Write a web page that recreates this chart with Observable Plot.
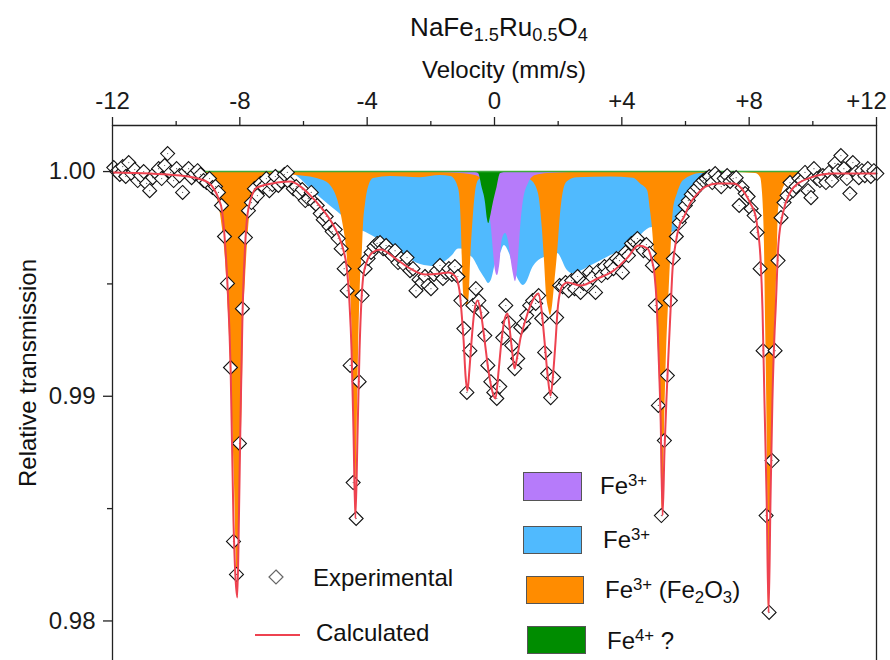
<!DOCTYPE html>
<html><head><meta charset="utf-8">
<script src="https://cdn.jsdelivr.net/npm/d3@7"></script>
<script src="https://cdn.jsdelivr.net/npm/@observablehq/plot@0.6"></script>
<style>
body{margin:0;background:#fff;}
#wrap{position:relative;width:890px;height:660px;overflow:hidden;font-family:"Liberation Sans",Arial,sans-serif;color:#111;}
#wrap svg{position:absolute;left:0;top:0;}
.t{position:absolute;white-space:nowrap;font-size:24px;line-height:1;}
.t sub{font-size:0.7em;vertical-align:-0.28em;line-height:0;}
.t sup{font-size:0.7em;vertical-align:0.5em;line-height:0;}
.box{position:absolute;border:1px solid #555;box-sizing:border-box;}
</style></head><body><div id="wrap"></div>
<script>
// ---------- DATA ----------
const titleHTML = "NaFe<sub>1.5</sub>Ru<sub>0.5</sub>O<sub>4</sub>";
const xLabel = "Velocity (mm/s)";
const yLabel = "Relative transmission";
const majorTicksX = [-12, -8, -4, 0, 4, 8, 12];
const minorTicksX = [-10, -6, -2, 2, 6, 10];
const majorTicksY = [0.98, 0.99, 1.00];
const minorTicksY = [0.985, 0.995];
const BASELINE = 1.0;

// experimental spectrum: equally spaced channels
const velocityStart = -11.96, velocityStep = 0.094;
const expTransmission = [
1.00018,1.00000,0.99987,1.00022,0.99978,1.00040,0.99991,1.00009,0.99960,0.99982,
1.00000,0.99947,0.99915,0.99973,0.99996,1.00013,0.99969,1.00027,1.00080,0.99996,
0.99960,1.00013,0.99982,0.99907,1.00000,1.00013,0.99973,0.99991,1.00004,0.99987,
0.99960,0.99951,0.99969,0.99929,0.99933,0.99907,0.99849,0.99711,0.99502,0.99128,
0.98354,0.98207,0.98790,0.99390,0.99706,0.99826,0.99862,0.99924,0.99893,0.99947,
0.99933,0.99969,0.99915,0.99942,0.99978,0.99938,0.99956,0.99987,0.99996,0.99947,
0.99924,0.99933,0.99902,0.99920,0.99871,0.99880,0.99907,0.99862,0.99849,0.99813,
0.99786,0.99800,0.99755,0.99733,0.99742,0.99702,0.99657,0.99568,0.99470,0.99137,
0.98616,0.98456,0.99065,0.99448,0.99568,0.99613,0.99640,0.99666,0.99680,0.99684,
0.99657,0.99671,0.99640,0.99626,0.99648,0.99595,0.99613,0.99586,0.99617,0.99559,
0.99568,0.99470,0.99519,0.99506,0.99533,0.99493,0.99479,0.99542,0.99559,0.99582,
0.99524,0.99551,0.99568,0.99542,0.99577,0.99533,0.99426,0.99301,0.99017,0.99203,
0.99404,0.99479,0.99426,0.99373,0.99270,0.99137,0.99065,0.99017,0.98990,0.99043,
0.99261,0.99404,0.99328,0.99226,0.99123,0.99168,0.99306,0.99324,0.99359,0.99404,
0.99426,0.99413,0.99448,0.99346,0.99195,0.99101,0.98994,0.99083,0.99350,0.99493,
0.99488,0.99506,0.99470,0.99515,0.99479,0.99533,0.99462,0.99502,0.99497,0.99551,
0.99528,0.99462,0.99559,0.99537,0.99577,0.99551,0.99586,0.99568,0.99613,0.99604,
0.99551,0.99640,0.99626,0.99680,0.99689,0.99702,0.99666,0.99648,0.99675,0.99635,
0.99582,0.99404,0.98959,0.98469,0.98803,0.99092,0.99426,0.99613,0.99711,0.99773,
0.99800,0.99849,0.99871,0.99898,0.99915,0.99929,0.99947,0.99960,0.99969,0.99978,
0.99951,0.99991,0.99973,0.99933,0.99969,0.99982,0.99956,0.99969,0.99973,0.99849,
0.99929,0.99902,0.99889,0.99835,0.99804,0.99729,0.99568,0.99203,0.98469,0.98038,
0.98714,0.99203,0.99604,0.99795,0.99862,0.99893,0.99951,0.99915,0.99933,0.99969,
0.99960,0.99996,0.99915,0.99884,1.00013,0.99969,0.99960,0.99982,0.99951,0.99996,
0.99960,1.00036,1.00004,1.00071,1.00013,0.99969,0.99902,1.00040,0.99996,0.99973,
1.00004,0.99982,1.00013,0.99978,1.00004,0.99991
];

// calculated fit [velocity, transmission]
const calculated = [
[-12.00,0.99996],[-10.81,0.99991],[-9.86,0.99982],[-9.32,0.99969],[-8.99,0.99951],[-8.82,0.99924],
[-8.67,0.99880],[-8.56,0.99826],[-8.48,0.99711],[-8.39,0.99502],[-8.29,0.99128],[-8.20,0.98447],
[-8.14,0.98202],[-8.08,0.98104],[-8.03,0.98447],[-7.98,0.98892],[-7.92,0.99337],[-7.82,0.99706],
[-7.73,0.99835],[-7.46,0.99929],[-6.83,0.99951],[-6.41,0.99956],[-6.09,0.99933],[-5.78,0.99893],
[-5.47,0.99844],[-5.15,0.99782],[-4.90,0.99715],[-4.74,0.99648],[-4.65,0.99582],[-4.56,0.99426],
[-4.49,0.99203],[-4.43,0.98848],[-4.37,0.98456],[-4.30,0.98848],[-4.24,0.99203],[-4.18,0.99426],
[-4.12,0.99537],[-4.02,0.99595],[-3.83,0.99640],[-3.58,0.99653],[-3.11,0.99613],[-2.64,0.99568],
[-2.17,0.99542],[-1.70,0.99546],[-1.45,0.99551],[-1.23,0.99533],[-1.10,0.99470],[-1.04,0.99381],
[-0.97,0.99248],[-0.91,0.99092],[-0.85,0.99025],[-0.79,0.99114],[-0.72,0.99248],[-0.63,0.99381],
[-0.53,0.99426],[-0.44,0.99381],[-0.31,0.99248],[-0.19,0.99114],[-0.06,0.99017],[0.03,0.98990],
[0.13,0.99114],[0.22,0.99248],[0.31,0.99337],[0.41,0.99368],[0.50,0.99270],[0.57,0.99181],
[0.63,0.99123],[0.72,0.99181],[0.82,0.99261],[0.97,0.99337],[1.13,0.99404],[1.29,0.99448],
[1.38,0.99457],[1.48,0.99381],[1.57,0.99248],[1.67,0.99092],[1.76,0.99003],[1.85,0.99114],
[1.92,0.99248],[1.98,0.99381],[2.07,0.99470],[2.17,0.99497],[2.29,0.99506],[2.70,0.99493],
[3.24,0.99524],[3.74,0.99559],[4.18,0.99617],[4.52,0.99671],[4.81,0.99657],[4.93,0.99613],
[5.03,0.99537],[5.09,0.99426],[5.15,0.99203],[5.22,0.98892],[5.28,0.98469],[5.34,0.98758],
[5.40,0.98981],[5.47,0.99203],[5.53,0.99381],[5.59,0.99559],[5.69,0.99680],[5.81,0.99760],
[5.94,0.99795],[6.16,0.99862],[6.38,0.99902],[6.63,0.99933],[7.01,0.99947],[7.51,0.99947],
[7.73,0.99929],[7.89,0.99898],[8.04,0.99858],[8.20,0.99804],[8.26,0.99751],[8.36,0.99604],
[8.42,0.99381],[8.48,0.98981],[8.55,0.98536],[8.61,0.98038],[8.67,0.98536],[8.73,0.98981],
[8.80,0.99292],[8.83,0.99381],[8.92,0.99680],[9.08,0.99826],[9.24,0.99893],[9.39,0.99929],
[9.93,0.99973],[10.65,0.99991],[12.00,0.99991]
];

// component: Fe3+ broad (blue)
const compBlue = [
[-6.47,1.0],[-6.38,0.99996],[-6.19,0.99978],[-5.69,0.99911],[-5.15,0.99846],[-4.68,0.99791],
[-4.37,0.99750],[-4.05,0.99730],[-3.58,0.99693],[-2.95,0.99640],[-2.32,0.99586],[-1.85,0.99577],
[-1.54,0.99600],[-1.32,0.99626],[-1.13,0.99655],[-0.97,0.99653],[-0.82,0.99630],[-0.69,0.99617],
[-0.44,0.99555],[-0.28,0.99520],[-0.19,0.99502],[-0.09,0.99520],[0.03,0.99590],[0.19,0.99635],
[0.31,0.99671],[0.47,0.99635],[0.63,0.99560],[0.79,0.99510],[0.91,0.99493],[1.04,0.99515],
[1.16,0.99560],[1.32,0.99595],[1.60,0.99620],[1.98,0.99635],[2.29,0.99560],[2.45,0.99546],
[3.02,0.99580],[3.64,0.99625],[4.27,0.99670],[4.96,0.99751],[5.28,0.99720],[5.69,0.99737],
[6.16,0.99840],[6.47,0.99915],[6.79,0.99973],[6.94,0.99996],[7.10,1.0]
];

// component: Fe3+ (Fe2O3) sextet (orange)
const compOrange = [
[-12.00,0.99999],[-9.86,0.99998],[-9.39,0.99993],[-9.14,0.99987],[-8.99,0.99969],[-8.83,0.99929],
[-8.67,0.99858],[-8.55,0.99751],[-8.45,0.99604],[-8.36,0.99381],[-8.26,0.99025],[-8.17,0.98625],
[-8.11,0.98269],[-8.08,0.98127],[-8.04,0.98269],[-7.98,0.98670],[-7.92,0.99025],[-7.89,0.99292],
[-7.82,0.99528],[-7.76,0.99680],[-7.67,0.99826],[-7.51,0.99902],[-7.35,0.99947],[-7.10,0.99978],
[-6.72,0.99987],[-6.19,0.99982],[-5.37,0.99960],[-5.00,0.99902],[-4.84,0.99826],[-4.74,0.99751],
[-4.65,0.99662],[-4.59,0.99559],[-4.52,0.99470],[-4.46,0.99203],[-4.40,0.98758],[-4.37,0.98483],
[-4.34,0.98670],[-4.27,0.99203],[-4.21,0.99515],[-4.15,0.99648],[-4.12,0.99751],[-4.05,0.99858],
[-3.96,0.99929],[-3.80,0.99969],[-3.27,0.99978],[-2.32,0.99973],[-1.70,0.99982],[-1.38,0.99978],
[-1.23,0.99960],[-1.16,0.99938],[-1.10,0.99902],[-1.04,0.99751],[-1.01,0.99604],[-0.97,0.99457],
[-0.91,0.99417],[-0.85,0.99395],[-0.79,0.99457],[-0.75,0.99604],[-0.69,0.99751],[-0.60,0.99902],
[-0.50,0.99960],[-0.28,0.99978],[0.19,0.99982],[0.82,0.99978],[1.16,0.99960],[1.38,0.99902],
[1.50,0.99751],[1.57,0.99604],[1.63,0.99457],[1.70,0.99390],[1.76,0.99359],[1.82,0.99400],
[1.89,0.99500],[1.98,0.99635],[2.07,0.99804],[2.17,0.99915],[2.29,0.99955],[2.60,0.99973],
[3.64,0.99976],[4.37,0.99970],[4.59,0.99945],[4.81,0.99915],[4.90,0.99826],[4.96,0.99751],
[5.03,0.99604],[5.09,0.99420],[5.15,0.99200],[5.22,0.98890],[5.28,0.98492],[5.34,0.98850],
[5.40,0.99180],[5.47,0.99420],[5.53,0.99604],[5.62,0.99826],[5.75,0.99902],[5.94,0.99960],
[6.47,0.99991],[7.41,0.99996],[8.20,0.99991],[8.36,0.99973],[8.42,0.99902],[8.45,0.99826],
[8.48,0.99680],[8.51,0.99381],[8.55,0.99000],[8.58,0.98600],[8.61,0.98069],[8.67,0.98400],
[8.73,0.98900],[8.83,0.99381],[8.89,0.99680],[8.92,0.99826],[8.99,0.99880],[9.08,0.99929],
[9.39,0.99973],[9.71,0.99991],[10.24,0.99998],[12.00,0.99999]
];

// component: Fe3+ doublet (purple)
const compPurple = [
[-2.32,1.0],[-1.70,0.99996],[-1.07,0.99991],[-0.60,0.99982],[-0.38,0.99960],[-0.25,0.99915],
[-0.16,0.99826],[-0.09,0.99740],[-0.03,0.99640],[0.03,0.99560],[0.09,0.99537],[0.16,0.99580],
[0.25,0.99700],[0.35,0.99724],[0.44,0.99690],[0.53,0.99600],[0.60,0.99540],[0.66,0.99510],
[0.72,0.99560],[0.77,0.99650],[0.82,0.99751],[0.91,0.99871],[1.07,0.99947],[1.29,0.99982],
[1.67,0.99991],[2.39,0.99996],[3.33,1.0]
];

// component: Fe4+ ? singlet (green)
const compGreen = [
[-0.91,1.0],[-0.60,0.99996],[-0.50,0.99991],[-0.39,0.99929],[-0.28,0.99858],[-0.23,0.99795],
[-0.18,0.99769],[-0.13,0.99795],[-0.04,0.99858],[0.08,0.99929],[0.19,0.99991],[0.50,1.0]
];

const seriesNames = ["Experimental", "Calculated"];
const componentLabels = ["Fe<sup>3+</sup>", "Fe<sup>3+</sup>", "Fe<sup>3+</sup> (Fe<sub>2</sub>O<sub>3</sub>)", "Fe<sup>4+</sup> ?"];

// ---------- STYLE ----------
const C = {blue:"#50BAFE", orange:"#FF8C00", purple:"#B67BFA", green:"#008C00", red:"#EE4250", axis:"#222"};
const yMin = 0.97824, yMax = 1.00205;

const expData = expTransmission.map((t, i) => ({v: velocityStart + i * velocityStep, t}));
const X = d => d[0], Y = d => d[1], base = () => BASELINE;
const fmtX = d => d > 0 ? "+" + d : String(d);
const lastTick = majorTicksX[majorTicksX.length - 1];

const plot = Plot.plot({
  width: 890, height: 660,
  marginTop: 125, marginLeft: 112, marginRight: 14, marginBottom: 0,
  x: {domain: [-12, 12]},
  y: {domain: [yMin, yMax]},
  style: {fontFamily: "'Liberation Sans', Arial, sans-serif", fontSize: "24px", color: "#1a1a1a", background: "transparent"},
  marks: [
    Plot.areaY(compBlue, {x: X, y1: base, y2: Y, fill: C.blue, curve: "monotone-x"}),
    Plot.areaY(compOrange, {x: X, y1: base, y2: Y, fill: C.orange, curve: "monotone-x"}),
    Plot.areaY(compPurple, {x: X, y1: base, y2: Y, fill: C.purple, curve: "monotone-x"}),
    Plot.areaY(compGreen, {x: X, y1: base, y2: Y, fill: C.green, curve: "monotone-x"}),
    Plot.ruleY([BASELINE], {stroke: "#3DAA3D", strokeWidth: 1.4}),
    Plot.dot(expData, {x: "v", y: "t", symbol: "diamond2", r: 6.3, stroke: "#111", fill: "white", strokeWidth: 1.1}),
    Plot.dot(expData, {x: "v", y: "t", r: 0.6, fill: "#555"}),
    Plot.line(calculated, {x: X, y: Y, stroke: C.red, strokeWidth: 2, curve: "monotone-x"}),
    Plot.ruleY([yMax], {stroke: C.axis, strokeWidth: 1.3}),
    Plot.ruleX([-12, 12], {stroke: C.axis, strokeWidth: 1.3}),
    Plot.axisX(majorTicksX, {anchor: "top", tickSize: 9, tickPadding: 8, strokeWidth: 1.3, stroke: C.axis,
      tickFormat: d => d === lastTick ? "" : fmtX(d), label: null}),
    Plot.text([lastTick], {x: d => d, frameAnchor: "top", lineAnchor: "middle", dy: -24, dx: -10, text: fmtX, fill: "#1a1a1a"}),
    Plot.axisX(minorTicksX, {anchor: "top", tickSize: 5, strokeWidth: 1.3, stroke: C.axis, tickFormat: () => "", label: null}),
    Plot.axisY(majorTicksY, {anchor: "left", tickSize: 9, tickPadding: 8, strokeWidth: 1.3, stroke: C.axis,
      tickFormat: d3.format(".2f"), label: null}),
    Plot.axisY(minorTicksY, {anchor: "left", tickSize: 5, strokeWidth: 1.3, stroke: C.axis, tickFormat: () => "", label: null})
  ]
});
const wrap = document.getElementById("wrap");
wrap.appendChild(plot);

function addText(html, left, top, extra) {
  const d = document.createElement("div");
  d.className = "t";
  d.innerHTML = html;
  d.style.left = left + "px"; d.style.top = top + "px";
  d.style.transform = extra || "translate(0,-50%)";
  wrap.appendChild(d);
  return d;
}
addText(titleHTML, 499, 27, "translate(-50%,-50%)").style.fontSize = "26px";
addText(xLabel, 504, 70, "translate(-50%,-50%)");
addText(yLabel, 28, 373, "translate(-50%,-50%) rotate(-90deg)");

// legend: experimental / calculated
const ls = document.createElementNS("http://www.w3.org/2000/svg", "svg");
ls.setAttribute("width", 890); ls.setAttribute("height", 660);
ls.style.position = "absolute"; ls.style.left = "0"; ls.style.top = "0"; ls.style.pointerEvents = "none";
ls.innerHTML = '<path d="M276,570 L283,577 L276,584 L269,577 Z" fill="white" stroke="#666" stroke-width="1.2"/>' +
  '<line x1="255" y1="635" x2="300" y2="635" stroke="' + C.red + '" stroke-width="2"/>';
wrap.appendChild(ls);
addText(seriesNames[0], 313, 578);
addText(seriesNames[1], 316, 633);

// legend: components
const boxColors = [C.purple, C.blue, C.orange, C.green];
const boxPos = [[523,472,59,29],[523,526,59,28],[526,576,58,28],[527,626,59,28]];
const textPos = [[600,486],[603,540],[605,590],[607,641]];
boxColors.forEach((col, i) => {
  const b = document.createElement("div");
  b.className = "box";
  const [l, t, w, h] = boxPos[i];
  Object.assign(b.style, {left: l + "px", top: t + "px", width: w + "px", height: h + "px", background: col});
  wrap.appendChild(b);
  addText(componentLabels[i], textPos[i][0], textPos[i][1]);
});
</script></body></html>
